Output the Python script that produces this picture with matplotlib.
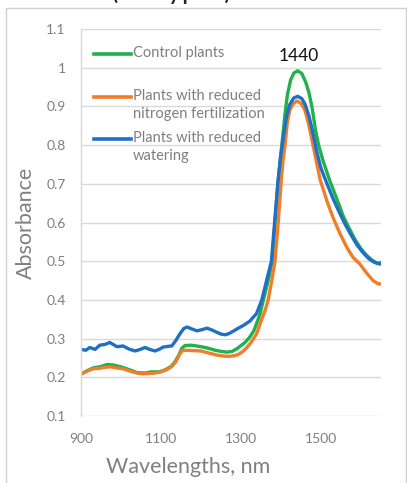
import matplotlib
matplotlib.use("Agg")
import matplotlib.pyplot as plt
from matplotlib.lines import Line2D
from matplotlib.patches import Rectangle

plt.rcParams['font.family'] = ['Lato', 'DejaVu Sans']

# ---------------- data ----------------
control_wl = [900, 915, 930, 950, 965, 980, 1000, 1020, 1040, 1060, 1075, 1095, 1110, 1125,
              1135, 1145, 1152, 1160, 1175, 1195, 1215, 1235, 1250, 1265, 1278, 1290, 1300,
              1310, 1322, 1332, 1339, 1348, 1356, 1368, 1378, 1385, 1392, 1398, 1404, 1410,
              1416, 1424, 1432, 1442, 1452, 1462, 1470, 1478, 1486, 1494, 1505, 1522, 1540,
              1555, 1568, 1585, 1600, 1615, 1630, 1640, 1650]
control_abs = [0.208, 0.217, 0.224, 0.228, 0.233, 0.232, 0.227, 0.220, 0.212, 0.211, 0.214,
               0.214, 0.219, 0.228, 0.240, 0.258, 0.275, 0.282, 0.283, 0.280, 0.276, 0.270,
               0.267, 0.265, 0.267, 0.274, 0.282, 0.290, 0.304, 0.320, 0.339, 0.365, 0.400,
               0.450, 0.500, 0.600, 0.700, 0.760, 0.820, 0.880, 0.930, 0.968, 0.986, 0.992,
               0.985, 0.962, 0.935, 0.895, 0.840, 0.800, 0.760, 0.708, 0.660, 0.618, 0.590,
               0.556, 0.532, 0.514, 0.501, 0.495, 0.492]

nitrogen_wl = [900, 915, 930, 945, 960, 975, 990, 1005, 1020, 1040, 1055, 1070, 1085, 1100,
               1115, 1127, 1137, 1145, 1152, 1160, 1180, 1200, 1222, 1242, 1255, 1270, 1285,
               1295, 1305, 1314, 1325, 1339, 1350, 1360, 1368, 1377, 1385, 1393, 1400, 1405,
               1410, 1416, 1422, 1430, 1440, 1450, 1460, 1470, 1478, 1488, 1498, 1515, 1530,
               1548, 1565, 1580, 1597, 1612, 1630, 1642, 1650]
nitrogen_abs = [0.208, 0.216, 0.222, 0.223, 0.226, 0.227, 0.224, 0.222, 0.217, 0.211, 0.209,
                0.210, 0.211, 0.214, 0.220, 0.228, 0.240, 0.256, 0.268, 0.270, 0.269, 0.268,
                0.262, 0.257, 0.255, 0.254, 0.256, 0.260, 0.267, 0.276, 0.290, 0.312, 0.345,
                0.372, 0.400, 0.450, 0.500, 0.600, 0.700, 0.760, 0.800, 0.860, 0.890, 0.906,
                0.914, 0.908, 0.890, 0.850, 0.810, 0.760, 0.710, 0.655, 0.613, 0.570, 0.535,
                0.510, 0.493, 0.472, 0.450, 0.442, 0.441]

water_wl = [900, 912, 922, 935, 947, 960, 972, 982, 990, 1005, 1020, 1035, 1048, 1060, 1072,
            1085, 1095, 1105, 1118, 1127, 1137, 1147, 1157, 1165, 1177, 1190, 1202, 1215,
            1228, 1240, 1252, 1262, 1272, 1282, 1295, 1306, 1322, 1339, 1352, 1364, 1376,
            1384, 1392, 1399, 1406, 1414, 1422, 1432, 1442, 1452, 1460, 1470, 1480, 1490,
            1500, 1515, 1530, 1545, 1560, 1575, 1590, 1605, 1620, 1632, 1642, 1650]
water_abs = [0.272, 0.270, 0.277, 0.272, 0.283, 0.285, 0.290, 0.284, 0.279, 0.281, 0.273,
             0.268, 0.272, 0.277, 0.272, 0.268, 0.272, 0.278, 0.280, 0.281, 0.295, 0.312,
             0.326, 0.330, 0.325, 0.320, 0.323, 0.327, 0.322, 0.316, 0.311, 0.310, 0.314,
             0.320, 0.328, 0.334, 0.345, 0.365, 0.400, 0.450, 0.500, 0.600, 0.700, 0.770,
             0.820, 0.875, 0.905, 0.922, 0.926, 0.920, 0.906, 0.875, 0.830, 0.780, 0.740,
             0.700, 0.662, 0.628, 0.596, 0.568, 0.542, 0.522, 0.506, 0.498, 0.494, 0.496]

series_labels = ["Control plants", "Plants with reduced\nnitrogen fertilization",
                 "Plants with reduced\nwatering"]
series_colors = ["#22b04b", "#f07d2a", "#1f6fc6"]
x_ticks = [900, 1100, 1300, 1500]
y_ticks = [0.1, 0.2, 0.3, 0.4, 0.5, 0.6, 0.7, 0.8, 0.9, 1.0, 1.1]
y_tick_labels = ["0.1", "0.2", "0.3", "0.4", "0.5", "0.6", "0.7", "0.8", "0.9", "1", "1.1"]
peak_label = "1440"
peak_wl = 1440

# ---------------- figure ----------------
W, H = 407, 483
fig = plt.figure(figsize=(W / 100, H / 100), dpi=100)

def fx(px):
    return px / W

def fy(py):
    return 1 - py / H

# outer frame
fig.patches.append(Rectangle((fx(6), fy(520)), fx(406) - fx(6), fy(8) - fy(520),
                             transform=fig.transFigure, fill=False,
                             edgecolor="#d0d0d0", linewidth=1.0))
# partially visible title at the very top (only its lower edge is in the picture)
fig.text(fx(172), fy(-1.5), "(Biotypes)", ha="center", va="baseline", fontsize=20,
         color="#222222")

ax = fig.add_axes([fx(81), fy(416), fx(381) - fx(81), fy(29) - fy(416)])
ax.set_xlim(900, 1650)
ax.set_ylim(0.1, 1.1)

gray = "#7f7f7f"
ax.set_yticks(y_ticks)
ax.set_yticklabels(y_tick_labels)
ax.set_xticks(x_ticks)
ax.tick_params(length=0, labelsize=10, labelcolor=gray)
ax.tick_params(axis="y", pad=11)
ax.tick_params(axis="x", pad=12)
ax.grid(axis="y", color="#d9d9d9", linewidth=1.0)
ax.set_axisbelow(True)
for s in ["top", "right", "bottom"]:
    ax.spines[s].set_visible(False)
ax.spines["left"].set_color("#d9d9d9")
ax.spines["left"].set_linewidth(1.0)

ax.plot(control_wl, control_abs, color=series_colors[0], lw=2.4, solid_capstyle="round")
ax.plot(nitrogen_wl, nitrogen_abs, color=series_colors[1], lw=2.4, solid_capstyle="round")
ax.plot(water_wl, water_abs, color=series_colors[2], lw=2.4, solid_capstyle="round")

ax.text(peak_wl + 5, 1.031, peak_label, ha="center", va="center", fontsize=12.5,
        color="#111111")

ax.set_ylabel("Absorbance", fontsize=15.5, color=gray)
ax.set_xlabel("Wavelengths, nm", fontsize=15.5, color=gray)
ax.xaxis.set_label_coords((188 - 81) / 300, -(457 - 416) / 387)
ax.yaxis.set_label_coords(-(81 - 36) / 300, 0.5)

# legend drawn manually (handle aligned with first text line)
leg_y = [54, 97, 139]
for lbl, col, yy in zip(series_labels, series_colors, leg_y):
    fig.lines.append(Line2D([fx(94), fx(131)], [fy(yy), fy(yy)], color=col, lw=2.6,
                            transform=fig.transFigure))
    fig.text(fx(133), fy(yy - 8), lbl, ha="left", va="top", fontsize=10.5, color=gray,
             linespacing=1.35, transform=fig.transFigure)

fig.savefig("out.png", dpi=100)
